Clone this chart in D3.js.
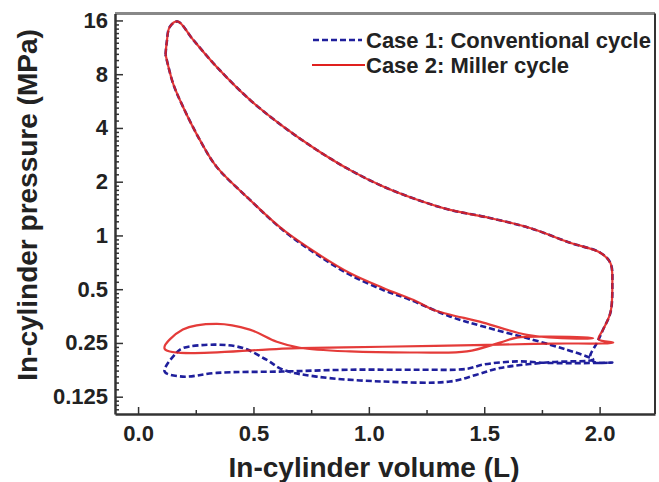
<!DOCTYPE html>
<html>
<head>
<meta charset="utf-8">
<script src="https://cdn.jsdelivr.net/npm/d3@7"></script>
<style>
body { margin: 0; background: #fff; }
text { font-family: "Liberation Sans", Arial, sans-serif; font-weight: bold; fill: #222; }
</style>
</head>
<body>
<div id="container"></div>
<script>
// [volume (L), pressure (MPa)] read along each cycle
var millerCycle = [
    [0.119, 10.3], [0.124, 12.0], [0.137, 14.7], [0.171, 15.8],
    [0.238, 12.5], [0.339, 8.84], [0.484, 5.76], [0.628, 4.08], [0.773, 3.02],
    [0.917, 2.33], [1.062, 1.88], [1.207, 1.59], [1.352, 1.39], [1.503, 1.27], [1.698, 1.10],
    [1.872, 0.91], [2.003, 0.80], [2.047, 0.70], [2.055, 0.52], [2.047, 0.37],
    [2.015, 0.297], [1.995, 0.262],
    [2.059, 0.251], [1.800, 0.248], [1.568, 0.2445], [1.061, 0.238], [0.700, 0.234], [0.115, 0.232],
    [0.194, 0.297], [0.341, 0.320], [0.484, 0.297], [0.601, 0.254], [0.701, 0.235],
    [0.918, 0.224], [1.208, 0.221], [1.425, 0.224], [1.568, 0.251], [1.642, 0.268],
    [1.785, 0.271], [1.972, 0.266],
    [1.900, 0.264], [1.685, 0.278], [1.495, 0.325], [1.278, 0.384], [1.207, 0.427],
    [1.062, 0.508], [0.917, 0.616], [0.773, 0.797], [0.628, 1.077], [0.484, 1.586],
    [0.339, 2.435], [0.267, 3.44], [0.194, 5.28], [0.151, 7.14], [0.119, 10.3]
];

var conventionalCycle = [
    [0.119, 10.3], [0.124, 12.0], [0.137, 14.7], [0.171, 15.8],
    [0.238, 12.5], [0.339, 8.84], [0.484, 5.76], [0.628, 4.08], [0.773, 3.02],
    [0.917, 2.33], [1.062, 1.88], [1.207, 1.59], [1.352, 1.39], [1.503, 1.27], [1.698, 1.10],
    [1.872, 0.91], [2.003, 0.80], [2.047, 0.70], [2.055, 0.52], [2.047, 0.37],
    [2.015, 0.297], [1.989, 0.251], [1.959, 0.210], [1.975, 0.196],
    [2.055, 0.194], [1.785, 0.193], [1.642, 0.197], [1.494, 0.189], [1.425, 0.179],
    [1.208, 0.177], [0.918, 0.177], [0.627, 0.173], [0.341, 0.170], [0.193, 0.162], [0.115, 0.173],
    [0.166, 0.220], [0.194, 0.234], [0.339, 0.2445], [0.455, 0.234], [0.556, 0.2015],
    [0.628, 0.177], [0.773, 0.162], [1.062, 0.152], [1.351, 0.152], [1.467, 0.166],
    [1.568, 0.181], [1.785, 0.195], [1.972, 0.2015],
    [1.944, 0.210], [1.858, 0.229], [1.713, 0.260], [1.496, 0.309], [1.351, 0.352],
    [1.178, 0.4365], [1.062, 0.495], [0.917, 0.603], [0.773, 0.785], [0.628, 1.07],
    [0.484, 1.586], [0.339, 2.435], [0.267, 3.44], [0.194, 5.28], [0.151, 7.14], [0.119, 10.3]
];

var seriesNames = ["Case 1: Conventional cycle", "Case 2: Miller cycle"];
var xTicks = [0, 0.5, 1, 1.5, 2];
var xMinorTicks = [0.25, 0.75, 1.25, 1.75];
var yTicks = [0.125, 0.25, 0.5, 1, 2, 4, 8, 16];
var yTickLabels = ["0.125", "0.25", "0.5", "1", "2", "4", "8", "16"];

var width = 659,
    height = 482;
var margin = {top: 13.5, right: 4, bottom: 68, left: 115};

var svg = d3.select("#container").append("svg")
    .attr("width", width)
    .attr("height", height);

var x = d3.scaleLinear()
    .domain([-0.1, 2.24])
    .range([margin.left, width - margin.right]);

var y = d3.scaleLog().base(2)
    .domain([0.1, 17.5])
    .range([height - margin.bottom, margin.top]);

// minor ticks on log axis: linear steps inside each octave
var yMinorTicks = [];
[0.0625].concat(yTicks).forEach(a => {
    for (let k = 1; k < 10; ++k) {
        let v = a * (1 + k / 10);
        if (v > y.domain()[0] && v < y.domain()[1]) yMinorTicks.push(v);
    }
});

// frame top / right
svg.append("line")
    .attr("x1", margin.left).attr("x2", width - margin.right)
    .attr("y1", margin.top).attr("y2", margin.top)
    .attr("stroke", "#888").attr("stroke-width", 3);
svg.append("line")
    .attr("x1", width - margin.right).attr("x2", width - margin.right)
    .attr("y1", margin.top).attr("y2", height - margin.bottom)
    .attr("stroke", "#333").attr("stroke-width", 2);

svg.append("g")
    .attr("transform", "translate(0," + (height - margin.bottom) + ")")
    .call(d3.axisBottom(x).tickValues(xTicks).tickSizeInner(-7).tickSizeOuter(0)
        .tickPadding(11).tickFormat(d3.format(".1f")));
svg.append("g")
    .attr("transform", "translate(0," + (height - margin.bottom) + ")")
    .call(d3.axisBottom(x).tickValues(xMinorTicks).tickSizeInner(-4).tickSizeOuter(0).tickFormat(""))
    .select(".domain").remove();

svg.append("g")
    .attr("transform", "translate(" + margin.left + ",0)")
    .call(d3.axisLeft(y).tickValues(yTicks).tickSizeInner(-8).tickSizeOuter(0)
        .tickPadding(7).tickFormat((d, i) => yTickLabels[i]));
svg.append("g")
    .attr("transform", "translate(" + margin.left + ",0)")
    .call(d3.axisLeft(y).tickValues(yMinorTicks).tickSizeInner(-4).tickSizeOuter(0).tickFormat(""))
    .select(".domain").remove();

svg.selectAll(".domain").attr("stroke", "#333").attr("stroke-width", 2.5);
svg.selectAll(".tick line").attr("stroke", "#333").attr("stroke-width", 1.5);
svg.selectAll(".tick text")
    .attr("font-size", 22)
    .attr("font-family", "'Liberation Sans', Arial, sans-serif")
    .attr("font-weight", "bold")
    .attr("fill", "#222");

var line = d3.line()
    .x(d => x(d[0]))
    .y(d => y(d[1]))
    .curve(d3.curveCatmullRom.alpha(0.5));

svg.append("path")
    .attr("d", line(conventionalCycle))
    .attr("fill", "none")
    .attr("stroke", "#1f1f9c")
    .attr("stroke-width", 2.6)
    .attr("stroke-dasharray", "6,3");

svg.append("path")
    .attr("d", line(millerCycle))
    .attr("fill", "none")
    .attr("stroke", "#e0201e")
    .attr("stroke-width", 2.2)
    .attr("stroke-opacity", 0.88);

// legend
var legend = svg.append("g");
legend.append("line")
    .attr("x1", 313).attr("x2", 362).attr("y1", 40).attr("y2", 40)
    .attr("stroke", "#1f1f9c").attr("stroke-width", 2.6).attr("stroke-dasharray", "6,3");
legend.append("line")
    .attr("x1", 312).attr("x2", 365).attr("y1", 65).attr("y2", 65)
    .attr("stroke", "#e0201e").attr("stroke-width", 2.2);
legend.selectAll("text")
    .data(seriesNames)
    .enter().append("text")
    .attr("x", 366)
    .attr("y", (d, i) => 47.5 + i * 25)
    .attr("font-size", 22)
    .text(d => d);

// axis titles
svg.append("text")
    .attr("x", 374)
    .attr("y", 477)
    .attr("text-anchor", "middle")
    .attr("font-size", 28)
    .text("In-cylinder volume (L)");

svg.append("text")
    .attr("transform", "translate(37," + 205 + ") rotate(-90)")
    .attr("text-anchor", "middle")
    .attr("font-size", 28)
    .text("In-cylinder pressure (MPa)");
</script>
</body>
</html>
